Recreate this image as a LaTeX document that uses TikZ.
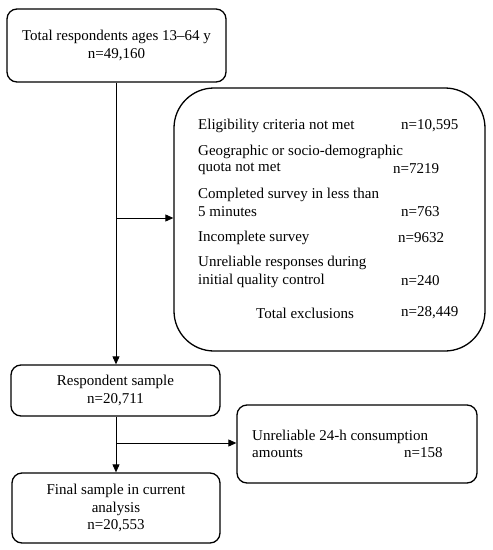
\documentclass[tikz,border=0pt]{standalone}
\usepackage{fontspec}
\setmainfont{Liberation Serif}
\usetikzlibrary{arrows.meta}
\begin{document}
\begin{tikzpicture}[x=1pt,y=-1pt,
  box/.style={draw,line width=1.3pt,rounded corners=10pt,inner sep=0pt,align=center,font=\fontsize{15}{17.5}\selectfont},
  txt/.style={inner sep=0pt,anchor=west,font=\fontsize{15}{17.5}\selectfont},
  conn/.style={line width=0.9pt,-{Triangle[length=8pt,width=7pt]}}]
\useasboundingbox (0,0) rectangle (493,550);
\node[box,minimum width=219pt,minimum height=73pt] (total) at (116.5,45.5) {Total respondents ages 13--64 y\\n=49,160};
\node[draw,line width=1.3pt,rounded corners=40pt,minimum width=311pt,minimum height=263pt,inner sep=0pt] (excl) at (329.5,219.5) {};
\node[box,minimum width=209pt,minimum height=51pt] (resp) at (115.5,390.5) {Respondent sample\\n=20,711};
\node[box,minimum width=240pt,minimum height=78pt] (unrel) at (357,444) {};
\node[box,minimum width=208pt,minimum height=70pt] (final) at (116,508) {Final sample in current\\analysis\\n=20,553};
% exclusion texts
\node[txt] (e1) at (198,126) {Eligibility criteria not met};
\node[txt] (e1n) at (401,126) {n=10,595};
\node[txt] (e2) at (198,152) {Geographic or socio-demographic};
\node[txt] (e2b) at (198,169) {quota not met};
\node[txt] (e2n) at (393,169) {n=7219};
\node[txt] (e3) at (198,195) {Completed survey in less than};
\node[txt] (e3b) at (198,212) {5 minutes};
\node[txt] (e3n) at (401,212) {n=763};
\node[txt] (e4) at (198,238) {Incomplete survey};
\node[txt] (e4n) at (398,238) {n=9632};
\node[txt] (e5) at (198,263) {Unreliable responses during};
\node[txt] (e5b) at (198,281) {initial quality control};
\node[txt] (e5n) at (401,281) {n=240};
\node[txt] (e6) at (256,313) {Total exclusions};
\node[txt] (e6n) at (401,313) {n=28,449};
% unreliable texts
\node[txt] (u1) at (252,437) {Unreliable 24-h consumption};
\node[txt] (u2) at (252,453) {amounts};
\node[txt] (u2n) at (404,453) {n=158};
% connectors
\coordinate (b1) at (116,218);
\coordinate (b2) at (116,443);
\draw[conn] (total.south -| b1) -- (b1 |- resp.north);
\draw[conn] (b1) -- (b1 -| excl.west);
\draw[conn] (resp.south -| b2) -- (b2 |- final.north);
\draw[conn] (b2) -- (b2 -| unrel.west);
\end{tikzpicture}
\end{document}
